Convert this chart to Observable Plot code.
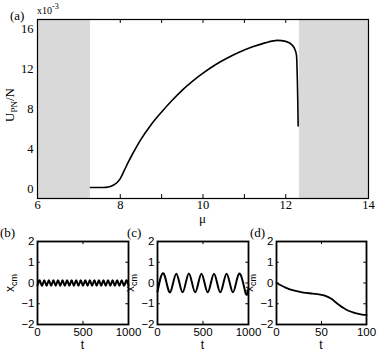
<!DOCTYPE html>
<html><head><meta charset="utf-8">
<script src="https://cdn.jsdelivr.net/npm/d3@7"></script>
<script src="https://cdn.jsdelivr.net/npm/@observablehq/plot@0.6"></script>
<style>
body{margin:0;background:#fff}
#wrap{position:relative;width:379px;height:353px;overflow:hidden;background:#fff}
#wrap svg{position:absolute;overflow:visible;background:transparent}
</style></head><body><div id="wrap"></div><script>
// ---- panel (a) data: U_PN/N (units of 1e-3) vs mu ----
const mu  = [7.28,7.5,7.65,7.76,7.85,7.93,8.0,8.1,8.2,8.3,8.4,8.5,8.75,9.0,9.25,9.5,9.75,10.0,10.3,10.6,10.9,11.2,11.5,11.8,12.0,12.15,12.22,12.26,12.28,12.29,12.30];
const upn = [0.1,0.1,0.12,0.2,0.38,0.63,1.0,1.85,2.7,3.5,4.25,4.95,6.45,7.7,8.85,9.9,10.8,11.6,12.45,13.15,13.75,14.25,14.65,14.9,14.8,14.45,14.0,13.4,11.0,9.0,6.3];
const shadeStart = [6, 12.33];
const shadeEnd   = [7.28, 14];
const aTicksLabeled = [6,8,10,12,14];
const aTicksMinor = [8,9,10,11,12];
const aYTicks = [0,4,8,12,16];

// ---- panel (b) ----
const bT = [0,25,50,75,100,125,150,175,200,225,250,275,300,325,350,375,400,425,450,475,500,525,550,575,600,625,650,675,700,725,750,775,800,825,850,875,900,925,950,975,1000];
const bX = [-0.12,0.13,-0.13,0.13,-0.13,0.13,-0.13,0.13,-0.13,0.13,-0.13,0.13,-0.13,0.13,-0.13,0.13,-0.13,0.13,-0.13,0.13,-0.13,0.13,-0.13,0.13,-0.13,0.13,-0.13,0.13,-0.13,0.13,-0.13,0.13,-0.13,0.13,-0.13,0.13,-0.13,0.13,-0.13,0.13,-0.12];
// ---- panel (c) ----
const cT = [0,69,138,207,276,345,414,483,552,621,690,759,828,897,966,1000];
const cX = [-0.42,0.45,-0.45,0.45,-0.45,0.46,-0.45,0.45,-0.45,0.45,-0.45,0.45,-0.45,0.45,-0.45,-0.3];
// ---- panel (d) ----
const dT = [0,10,20,30,40,50,55,60,65,70,75,80,85,90,95,100];
const dX = [0,-0.22,-0.37,-0.46,-0.51,-0.57,-0.63,-0.74,-0.9,-1.07,-1.22,-1.34,-1.42,-1.48,-1.52,-1.54];
const smallYTicks = [-2,-1,0,1,2];
const longXTicks = [0,500,1000];
const shortXTicks = [0,50,100];

const wrap = document.getElementById("wrap");
function place(svg, left, top){ svg.style.left = left+"px"; svg.style.top = top+"px"; wrap.appendChild(svg); return d3.select(svg); }
const SERIF = "Liberation Serif", SANS = "Liberation Sans";
function forceFont(sel, fam, size){
  sel.selectAll("g[aria-label$='tick label'] text, g[aria-label$='tick label']")
    .style("font-family", fam).style("font-size", size+"px").style("fill", "#000");
}

// ---- main panel ----
const aData = mu.map((m,i)=>({mu:m, u:upn[i]}));
const shades = shadeStart.map((s,i)=>({x1:s, x2:shadeEnd[i]}));
const main = Plot.plot({
  width:379, height:225,
  marginLeft:37, marginRight:11, marginTop:19, marginBottom:27,
  x:{domain:[6,14]}, y:{domain:[-1,17]},
  style:{fontFamily:SERIF, fontSize:"12.5px", color:"#000", background:"transparent"},
  marks:[
    Plot.rect(shades, {x1:"x1", x2:"x2", y1:-1, y2:17, fill:"#d9d9d9"}),
    Plot.ruleX(aTicksMinor, {y1:-1, y2:-0.6, stroke:"#000", strokeWidth:1}),
    Plot.ruleX(aTicksMinor, {y1:16.6, y2:17, stroke:"#000", strokeWidth:1}),
    Plot.frame({stroke:"#000", strokeWidth:1.2}),
    Plot.line(aData, {x:"mu", y:"u", curve:"monotone-x", stroke:"#000", strokeWidth:1.6}),
    Plot.axisX({ticks:aTicksLabeled, tickSize:0, tickPadding:2, label:null, tickFormat:d=>String(d), fontFamily:SERIF, fontSize:12.5, fill:"#000"}),
    Plot.axisY({ticks:aYTicks, tickSize:0, tickPadding:4, label:null, tickFormat:d=>String(d), fontFamily:SERIF, fontSize:12.5, fill:"#000"})
  ]
});
const ms = place(main, 0, 0);
forceFont(ms, SERIF, 12.5);
ms.append("text").attr("x",10).attr("y",20).attr("text-anchor","start").attr("font-family",SERIF).attr("font-size",13).text("(a)");
const mult = ms.append("text").attr("x",37).attr("y",14).attr("text-anchor","start").attr("font-family",SERIF).attr("font-size",10);
mult.append("tspan").text("x10");
mult.append("tspan").attr("dy",-5).attr("font-size",8).text("-3");
ms.append("text").attr("x",202.5).attr("y",223).attr("text-anchor","middle").attr("font-family",SERIF).attr("font-size",13).text("μ");
const yl = ms.append("text").attr("transform","translate(14,105) rotate(-90)").attr("text-anchor","middle").attr("font-family",SERIF).attr("font-size",13);
yl.append("tspan").text("U");
yl.append("tspan").attr("dy",3).attr("font-size",9).text("PN");
yl.append("tspan").attr("dy",-3).text("/N");

// ---- small panels ----
const fmtY = d => d < 0 ? "\u2212" + Math.abs(d) : String(d);
function small(ts, xs, xDomain, xTicks, tickLen, left, width, mLeft, letter, letterX, lw){
  const data = ts.map((t,i)=>({t, x:xs[i]}));
  const svg = Plot.plot({
    width, height:128, marginLeft:mLeft, marginRight:0, marginTop:16, marginBottom:29,
    x:{domain:xDomain}, y:{domain:[-2,2]},
    style:{fontFamily:SANS, fontSize:"11.5px", color:"#000", background:"transparent"},
    marks:[
      Plot.ruleY(smallYTicks, {x1:xDomain[0], x2:xDomain[0]+tickLen, stroke:"#000"}),
      Plot.ruleY(smallYTicks, {x1:xDomain[1]-tickLen, x2:xDomain[1], stroke:"#000"}),
      Plot.ruleX(xTicks, {y1:-2, y2:-1.85, stroke:"#000"}),
      Plot.ruleX(xTicks, {y1:1.85, y2:2, stroke:"#000"}),
      Plot.frame({stroke:"#000", strokeWidth:1.8}),
      Plot.line(data, {x:"t", y:"x", curve:"natural", stroke:"#000", strokeWidth:lw}),
      Plot.axisX({ticks:xTicks, tickSize:0, tickPadding:3, label:null, tickFormat:d=>String(d), fontFamily:SANS, fontSize:11.5, fill:"#000"}),
      Plot.axisY({ticks:smallYTicks, tickSize:0, tickPadding:3, label:null, tickFormat:fmtY, fontFamily:SANS, fontSize:11.5, fill:"#000"})
    ]
  });
  const s = place(svg, left, 225);
  forceFont(s, SANS, 11.5);
  s.append("text").attr("x",letterX).attr("y",12).attr("text-anchor","start").attr("font-family",SERIF).attr("font-size",13).text("("+letter+")");
  const lab = s.append("text").attr("transform",`translate(${mLeft-23},58) rotate(-90)`).attr("text-anchor","middle").attr("font-family",SANS).attr("font-size",12);
  lab.append("tspan").text("x");
  lab.append("tspan").attr("dy",3).attr("font-size",9).text("cm");
  s.append("text").attr("x",mLeft+(width-mLeft)/2).attr("y",124).attr("text-anchor","middle").attr("font-family",SANS).attr("font-size",12).text("t");
}
small(bT, bX, [0,1000], longXTicks, 30, 0, 128, 37, "b", 0, 2);
small(cT, cX, [0,1000], longXTicks, 30, 120, 128, 37, "c", 7, 2);
small(dT, dX, [0,100], shortXTicks, 3, 240, 126, 36, "d", 10, 1.8);
</script></body></html>
